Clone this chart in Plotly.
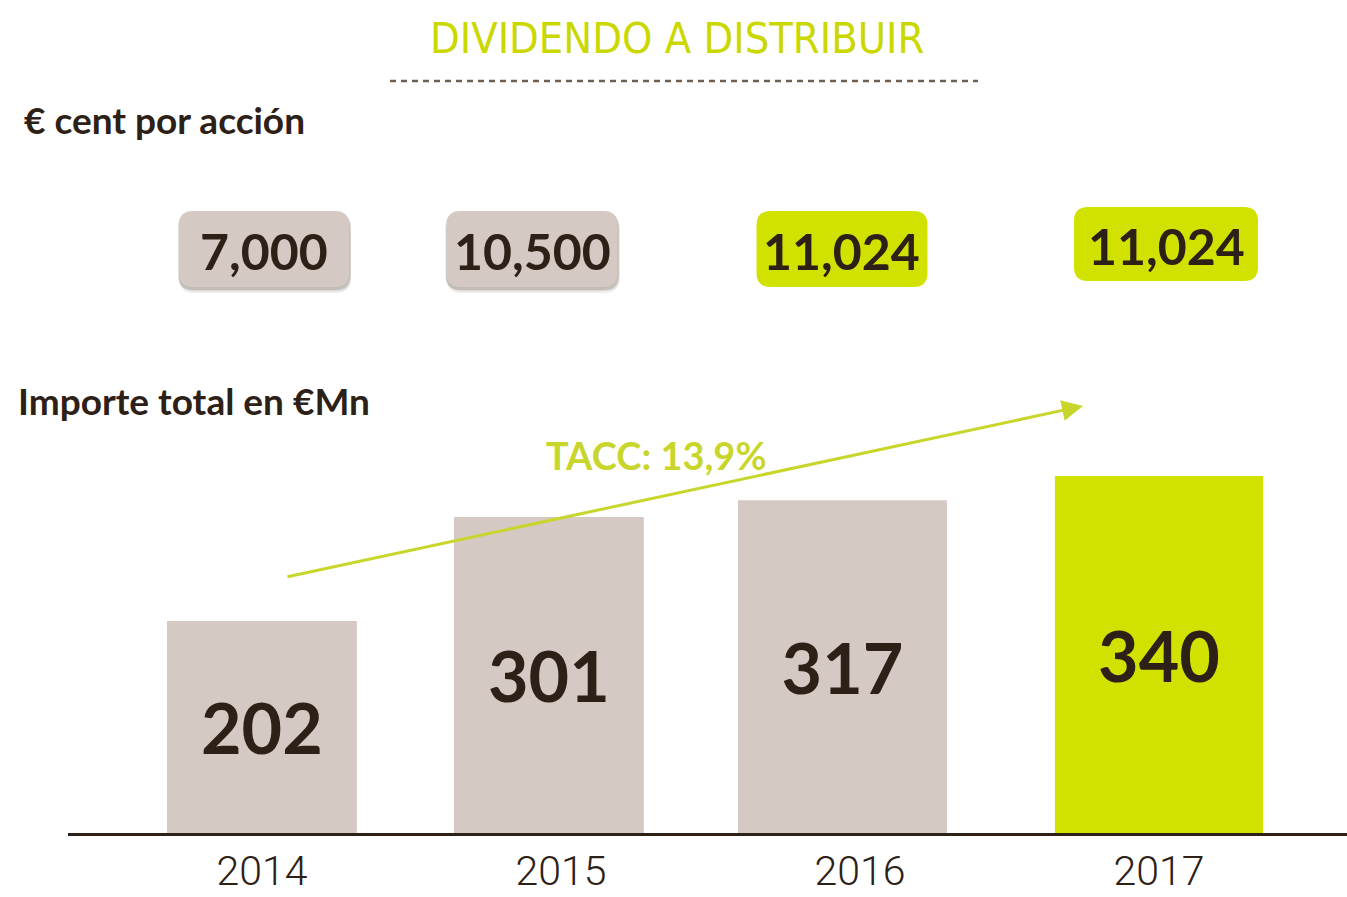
import plotly.graph_objects as go

# Data
years = ["2014", "2015", "2016", "2017"]
total_mn = [202, 301, 317, 340]                # Importe total en €Mn
cent_per_share = [7.000, 10.500, 11.024, 11.024]  # € cent por acción
tacc_label = "TACC: 13,9%"

# Styles
LIME = "#d1e200"
LIME_TITLE = "#cad800"
LIME_TXT = "#c8d62c"
GREY = "#d4c9c3"
DARK = "#2d2016"
BOLD_FONT = "Lato, 'Open Sans', sans-serif"
bar_colors = [GREY, GREY, GREY, LIME]
bar_widths = [0.635, 0.635, 0.699, 0.696]
bar_offsets = [-0.318, -0.358, -0.408, -0.348]
box_colors = [GREY, GREY, LIME, LIME]
box_shadow = [True, True, False, False]

# Canvas geometry (pixels)
W, H = 1347, 897
L, R, T, B = 68, 0, 413, 64


def px_x(p):
    return (p - L) / (W - L - R)


def px_y(p):
    return (H - B - p) / (H - B - T)


def rounded_rect(cx, cy, w, h, r):
    x0, x1 = cx - w / 2, cx + w / 2
    y0, y1 = cy - h / 2, cy + h / 2
    pts = [
        ("M", [(x0 + r, y0)]),
        ("L", [(x1 - r, y0)]),
        ("Q", [(x1, y0), (x1, y0 + r)]),
        ("L", [(x1, y1 - r)]),
        ("Q", [(x1, y1), (x1 - r, y1)]),
        ("L", [(x0 + r, y1)]),
        ("Q", [(x0, y1), (x0, y1 - r)]),
        ("L", [(x0, y0 + r)]),
        ("Q", [(x0, y0), (x0 + r, y0)]),
    ]
    parts = []
    for cmd, coords in pts:
        parts.append(cmd + " " + " ".join(f"{px_x(a):.5f},{px_y(b):.5f}" for a, b in coords))
    return " ".join(parts) + " Z"


fig = go.Figure()

fig.add_trace(go.Bar(
    x=years,
    y=total_mn,
    text=[str(v) for v in total_mn],
    textposition="inside",
    insidetextanchor="middle",
    textangle=0,
    textfont=dict(family=BOLD_FONT, size=70, color=DARK, weight="bold"),
    marker=dict(color=bar_colors, line=dict(width=0)),
    width=bar_widths,
    offset=bar_offsets,
    hoverinfo="skip",
))

shapes = []
annotations = []

# Title and dashed rule
annotations.append(dict(
    x=px_x(677), y=px_y(38), xref="paper", yref="paper",
    text="DIVIDENDO A DISTRIBUIR", showarrow=False,
    xanchor="center", yanchor="middle",
    font=dict(family="'Liberation Sans Narrow', 'DejaVu Sans Condensed', sans-serif",
              size=43, color=LIME_TITLE),
))
shapes.append(dict(
    type="line", xref="paper", yref="paper",
    x0=px_x(390), x1=px_x(978), y0=px_y(81), y1=px_y(81),
    line=dict(color="#6e5f52", width=2.5, dash="6px,5px"),
))

# Section headings
annotations.append(dict(
    x=px_x(22), y=px_y(119), xref="paper", yref="paper",
    text="€ cent por acción", showarrow=False,
    xanchor="left", yanchor="middle",
    font=dict(family=BOLD_FONT, size=37, color=DARK, weight="bold"),
))
annotations.append(dict(
    x=px_x(16), y=px_y(400), xref="paper", yref="paper",
    text="Importe total en €Mn", showarrow=False,
    xanchor="left", yanchor="middle",
    font=dict(family=BOLD_FONT, size=37, color=DARK, weight="bold"),
))

# Per-share value boxes
box_cx = [264, 532, 842, 1166]
box_cy = [249, 249, 249, 244]
box_w = [170, 171, 171, 184]
box_h = [76, 76, 76, 74]
for i, v in enumerate(cent_per_share):
    if box_shadow[i]:
        for dx, dy, op in [(1, 5, 0.10), (1, 3, 0.14), (0, 2, 0.18)]:
            shapes.append(dict(
                type="path", xref="paper", yref="paper",
                path=rounded_rect(box_cx[i] + dx, box_cy[i] + dy, box_w[i] + 2, box_h[i] + 2, 15),
                fillcolor=f"rgba(90,75,65,{op})", line=dict(width=0), layer="above",
            ))
    shapes.append(dict(
        type="path", xref="paper", yref="paper",
        path=rounded_rect(box_cx[i], box_cy[i], box_w[i], box_h[i], 14),
        fillcolor=box_colors[i], line=dict(width=0), layer="above",
    ))
    annotations.append(dict(
        x=px_x(box_cx[i]), y=px_y(box_cy[i] + 2), xref="paper", yref="paper",
        text=f"{v:.3f}".replace(".", ","), showarrow=False,
        xanchor="center", yanchor="middle",
        font=dict(family=BOLD_FONT, size=50, color=DARK, weight="bold"),
    ))

# Growth arrow and CAGR label
annotations.append(dict(
    x=px_x(1083), y=px_y(406), xref="paper", yref="paper",
    ax=286 - 1083, ay=577 - 406, axref="pixel", ayref="pixel",
    text="", showarrow=True,
    arrowhead=2, arrowsize=1.4, arrowwidth=3, arrowcolor=LIME_TXT,
))
annotations.append(dict(
    x=px_x(656), y=px_y(455), xref="paper", yref="paper",
    text=tacc_label, showarrow=False,
    xanchor="center", yanchor="middle",
    font=dict(family=BOLD_FONT, size=38, color=LIME_TXT, weight="bold"),
))

fig.update_layout(
    width=W, height=H,
    margin=dict(l=L, r=R, t=T, b=B, pad=0, autoexpand=False),
    paper_bgcolor="white",
    plot_bgcolor="white",
    showlegend=False,
    shapes=shapes,
    annotations=annotations,
    uniformtext=dict(minsize=70, mode="show"),
    xaxis=dict(
        type="category",
        range=[-0.649, 3.629],
        automargin=False,
        showline=True, linecolor=DARK, linewidth=3,
        ticks="", ticklen=0, showgrid=False, zeroline=False,
        tickfont=dict(family="Roboto, sans-serif", size=41, color=DARK, weight=300),
        ticklabelstandoff=0,
        fixedrange=True,
    ),
    yaxis=dict(
        visible=False, range=[0, 400], showgrid=False, zeroline=False,
        automargin=False, fixedrange=True,
    ),
)

fig.write_html("out.html")
